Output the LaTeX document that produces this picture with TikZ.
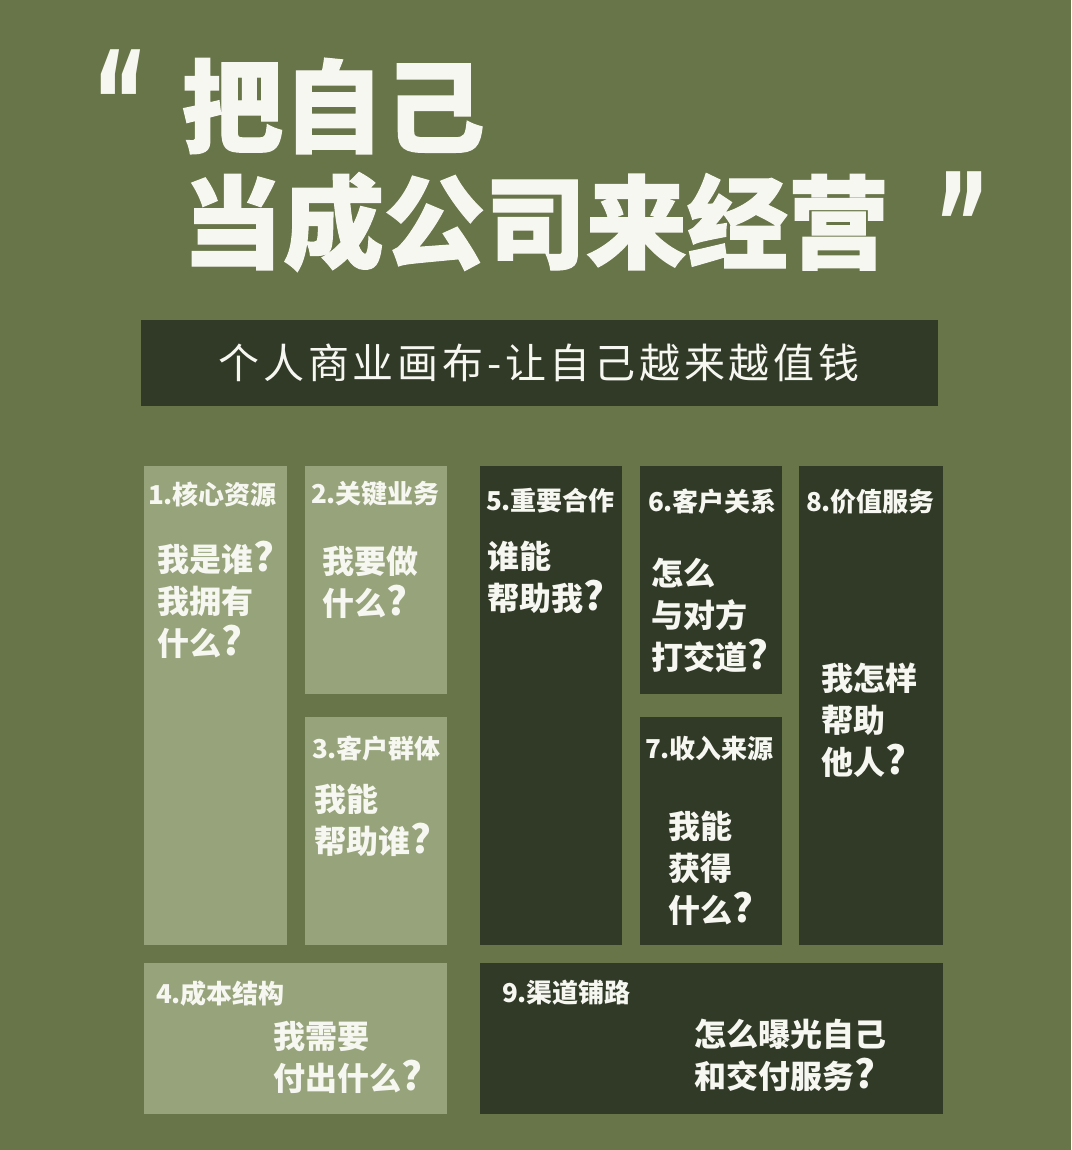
\documentclass[tikz,border=0pt]{standalone}
\usepackage{fontspec}
\newfontfamily\cjk{Noto Sans CJK SC}
\newfontfamily\cjkheavy{Noto Sans CJK SC}[BoldFeatures={FakeBold=1.2}]
\newfontfamily\quotefont{DejaVu Sans}
\definecolor{bg}{HTML}{687548}
\definecolor{lightbox}{HTML}{97A47B}
\definecolor{darkbox}{HTML}{303A27}
\definecolor{txt}{HTML}{F7F7F2}
\newcommand\qm{{\fontsize{39}{42}\selectfont ?}}
\tikzset{
  lbl/.style={anchor=west, font=\cjk\bfseries\fontsize{26}{30}\selectfont},
  qst/.style={anchor=west, align=left, font=\cjk\bfseries\fontsize{32}{42}\selectfont},
  ttl/.style={anchor=west, font=\cjkheavy\bfseries\fontsize{101}{110}\selectfont},
  quo/.style={anchor=north, font=\quotefont\bfseries\fontsize{115}{120}\selectfont},
}
\begin{document}
\begin{tikzpicture}[x=1pt,y=-1pt, every node/.style={inner sep=0pt, outer sep=0pt, text=txt}]
\fill[bg] (0,0) rectangle (1071,1150);
\useasboundingbox (0,0) rectangle (1071,1150);

% title
\node[quo] (qL) at (120,50) {\scalebox{0.74}[1.25]{“}};
\node[ttl] (t1) at (182,106) {把自己};
\node[ttl] (t2) at (182,222) {当成公司来经营};
\node[quo] (qR) at (962,172) {\scalebox{0.74}[1.25]{”}};

% banner
\fill[darkbox] (141,320) rectangle (938,406);
\node[font=\cjk\fontsize{41}{44}\selectfont] (banner) at (539,363)
  {\makebox[641pt][s]{个\hfill 人\hfill 商\hfill 业\hfill 画\hfill 布\hfill -\hfill 让\hfill 自\hfill 己\hfill 越\hfill 来\hfill 越\hfill 值\hfill 钱}};

% boxes
\fill[lightbox] (144,466) rectangle (287,945);
\fill[lightbox] (305,466) rectangle (447,694);
\fill[lightbox] (305,717) rectangle (447,945);
\fill[lightbox] (144,963) rectangle (447,1114);
\fill[darkbox] (480,466) rectangle (622,945);
\fill[darkbox] (640,466) rectangle (782,694);
\fill[darkbox] (640,717) rectangle (782,945);
\fill[darkbox] (799,466) rectangle (943,945);
\fill[darkbox] (480,963) rectangle (943,1114);

% labels
\node[lbl] (l1) at (148,494) {1.核心资源};
\node[lbl] (l2) at (311,494) {2.关键业务};
\node[lbl] (l3) at (312,749) {3.客户群体};
\node[lbl] (l4) at (156,994) {4.成本结构};
\node[lbl] (l5) at (486,501) {5.重要合作};
\node[lbl] (l6) at (648,502) {6.客户关系};
\node[lbl] (l7) at (645,749) {7.收入来源};
\node[lbl] (l8) at (806,502) {8.价值服务};
\node[lbl] (l9) at (502,993) {9.渠道铺路};

% questions
\node[qst] (q1) at (157,600) {我是谁\qm\\我拥有\\什么\qm};
\node[qst] (q2) at (322,582) {我要做\\什么\qm};
\node[qst] (q3) at (314,820) {我能\\帮助谁\qm};
\node[qst] (q4) at (273,1057) {我需要\\付出什么\qm};
\node[qst] (q5) at (487,577) {谁能\\帮助我\qm};
\node[qst] (q6) at (651,615) {怎么\\与对方\\打交道\qm};
\node[qst] (q7) at (668,868) {我能\\获得\\什么\qm};
\node[qst] (q8) at (821,720) {我怎样\\帮助\\他人\qm};
\node[qst] (q9) at (694,1055) {怎么曝光自己\\和交付服务\qm};
\end{tikzpicture}
\end{document}
